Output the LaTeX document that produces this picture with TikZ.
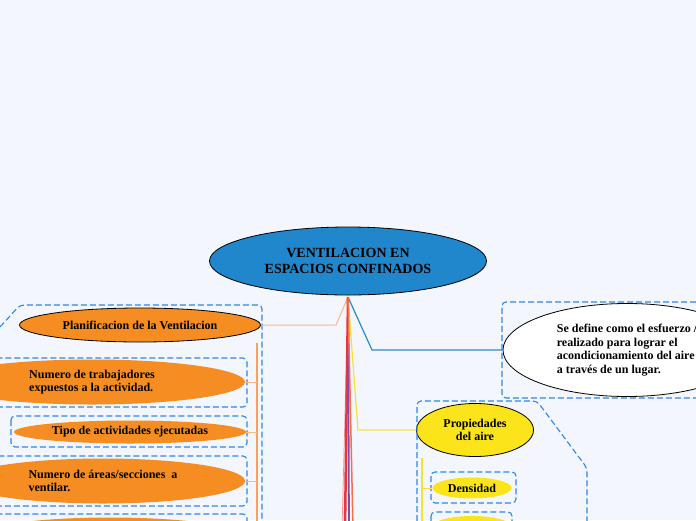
\documentclass[tikz,border=0pt]{standalone}
\usepackage{fontspec}
\setmainfont{Liberation Serif}
\usetikzlibrary{shapes.geometric}

\definecolor{bgblue}{HTML}{F3F6FD}
\definecolor{mainblue}{HTML}{2187CD}
\definecolor{topicorange}{HTML}{F68D22}
\definecolor{topicyellow}{HTML}{FCE41B}
\definecolor{frameblue}{HTML}{2F86E5}
\definecolor{linkorange}{HTML}{F7B88A}
\definecolor{barorange}{HTML}{F5A35C}
\definecolor{linkblue}{HTML}{2A8BC9}
\definecolor{linkyellow}{HTML}{F8E03A}
\definecolor{trunkred}{HTML}{E8353F}
\definecolor{trunkpurple}{HTML}{7B4FA8}
\definecolor{trunkcoral}{HTML}{F2704A}

\begin{document}
\begin{tikzpicture}[x=1pt, y=-1pt,
    every node/.style={font=\bfseries\fontsize{12}{13.5}\selectfont, inner sep=0pt},
    topic/.style={ellipse, draw=black, line width=0.8pt},
    subtopic/.style={ellipse},
    groupframe/.style={draw=frameblue, line width=1.1pt, dash pattern=on 6pt off 3pt, rounded corners=4pt}]
  \useasboundingbox (0,0) rectangle (696,520);
  \clip (0,0) rectangle (696,520);
  \fill[bgblue] (0,0) rectangle (696,520);

  % central topic
  \node[topic, fill=mainblue, minimum width=277pt, minimum height=68pt, align=center,
        font=\bfseries\fontsize{14}{16}\selectfont] (root) at (348,261) {VENTILACION EN\\ESPACIOS CONFINADOS};
  \coordinate (hub) at (348,297);

  % left branch
  \node[topic, fill=topicorange, minimum width=241pt, minimum height=34pt] (plan) at (140,325) {Planificacion de la Ventilacion};
  \node[subtopic, fill=topicorange, minimum width=306pt, minimum height=45pt, align=left] (workers) at (92,382) {Numero de trabajadores\\expuestos a la actividad.};
  \node[subtopic, fill=topicorange, minimum width=232pt, minimum height=23pt] (tasks) at (130,432) {Tipo de actividades ejecutadas};
  \node[subtopic, fill=topicorange, minimum width=284pt, minimum height=45pt, align=left] (areas) at (103,481) {Numero de áreas/secciones\ \ a\\ventilar.};
  \node[subtopic, fill=topicorange, minimum width=290pt, minimum height=45pt] (nextorange) at (110,540) {};

  % right branches
  \node[topic, fill=white, minimum width=248pt, minimum height=93pt, align=left] (define) at (627,350) {Se define como el esfuerzo /\\realizado para lograr el\\acondicionamiento del aire\\a través de un lugar.};
  \node[topic, fill=topicyellow, minimum width=117pt, minimum height=53pt, align=center] (props) at (475,430) {Propiedades\\del aire};
  \node[subtopic, fill=topicyellow, minimum width=79pt, minimum height=21pt] (density) at (472,488) {Densidad};
  \node[subtopic, fill=topicyellow, minimum width=80pt, minimum height=22pt] (nextyellow) at (472,527) {};

  % frames
  \draw[groupframe] (0,327) -- (20,305) -- (262,305) -- (262,530);
  \draw[groupframe] (-5,358) rectangle (247,407);
  \draw[groupframe] (11,416) rectangle (247,447);
  \draw[groupframe] (-5,456) rectangle (247,506);
  \draw[groupframe] (-5,514) rectangle (247,545);
  \draw[groupframe] (705,302) -- (502,302) -- (502,398) -- (705,398);
  \draw[groupframe] (417,530) -- (417,401) -- (537,401) -- (587,468) -- (587,530);
  \draw[groupframe] (431,472) rectangle (516,503);
  \draw[groupframe] (431,512) rectangle (512,545);

  % connectors
  \draw[linkorange, line width=1pt] (hub) -- (336,325) -- (plan.east);
  \draw[linkblue, line width=1.2pt] (hub) -- (372,350) -- (define.west);
  \draw[linkyellow, line width=1.2pt] (hub) -- (358,430) -- (props.west);
  \draw[trunkred!55, line width=0.7pt] (hub) -- (342,530);
  \draw[trunkred, line width=2.5pt] (hub) -- (345,530);
  \draw[trunkpurple, line width=1.8pt] (hub) -- (349,530);
  \draw[trunkcoral, line width=1.5pt] (hub) -- (353,530);

  \coordinate (planbar) at (257,343);
  \draw[barorange, line width=1.6pt] (planbar) -- (257,530);
  \foreach \kid in {workers, tasks, areas}
    \draw[linkorange, line width=0.8pt] (\kid.east) -- (\kid.east -| planbar);

  \coordinate (propbar) at (422,458);
  \draw[linkyellow, line width=1.4pt] (propbar) -- (422,530);
  \foreach \kid in {density, nextyellow}
    \draw[linkyellow, line width=0.8pt] (\kid.west) -- (\kid.west -| propbar);
\end{tikzpicture}
\end{document}
